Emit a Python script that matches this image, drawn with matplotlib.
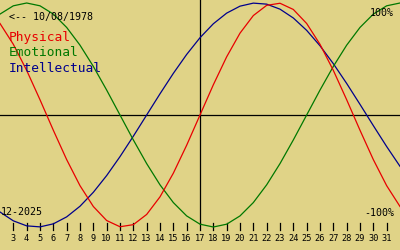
import matplotlib
matplotlib.use("Agg")
import matplotlib.pyplot as plt

# Data (December 2025, birth date 10/08/1978)
days = list(range(2, 33))
physical = [0.8170, 0.6311, 0.3984, 0.1362, -0.1362, -0.3984, -0.6311, -0.8170,
            -0.9423, -0.9977, -0.9791, -0.8879, -0.7308, -0.5196, -0.2698, 0.0,
            0.2698, 0.5196, 0.7308, 0.8879, 0.9791, 0.9977, 0.9423, 0.8170,
            0.6311, 0.3984, 0.1362, -0.1362, -0.3984, -0.6311, -0.8170]
emotional = [0.9010, 0.9749, 1.0, 0.9749, 0.9010, 0.7818, 0.6235, 0.4339,
             0.2225, 0.0, -0.2225, -0.4339, -0.6235, -0.7818, -0.9010, -0.9749,
             -1.0, -0.9749, -0.9010, -0.7818, -0.6235, -0.4339, -0.2225, 0.0,
             0.2225, 0.4339, 0.6235, 0.7818, 0.9010, 0.9749, 1.0]
intellectual = [-0.8660, -0.9450, -0.9898, -0.9989, -0.9718, -0.9096, -0.8146,
                -0.6901, -0.5407, -0.3717, -0.1893, 0.0, 0.1893, 0.3717, 0.5407,
                0.6901, 0.8146, 0.9096, 0.9718, 0.9989, 0.9898, 0.9450, 0.8660,
                0.7557, 0.6182, 0.4582, 0.2817, 0.0950, -0.0950, -0.2817, -0.4582]
tick_days = list(range(3, 32))
today = 17
series_names = ["Physical", "Emotional", "Intellectual"]
birth_label = "<-- 10/08/1978"
month_label = "12-2025"

BG = "#E0D387"
RED = "#E80000"
GREEN = "#007800"
BLUE = "#00008C"

W, H = 400, 250
fig = plt.figure(figsize=(W / 100, H / 100), dpi=100, facecolor=BG)
ax = fig.add_axes([0, 0, 1, 1])
ax.set_facecolor(BG)
ax.set_axis_off()

# pixel mapping: y_px = 115 - v*112
def v_of(ypx):
    return (115 - ypx) / 112.0

ax.set_xlim(2, 32)
ax.set_ylim(v_of(250), v_of(0))

lw = 0.9
ax.axhline(0, color="black", lw=lw, zorder=1)
ax.plot([today, today], [v_of(0), v_of(223)], color="black", lw=lw, zorder=1)

ax.plot(days, intellectual, color=BLUE, lw=lw, zorder=3)
ax.plot(days, emotional, color=GREEN, lw=lw, zorder=3)
ax.plot(days, physical, color=RED, lw=lw, zorder=3)

for d in tick_days:
    ax.plot([d, d], [v_of(223), v_of(230)], color="black", lw=lw)
    ax.text(d, v_of(238.5), str(d), ha="center", va="center",
            fontsize=6.2, family="DejaVu Sans Mono", color="black")

def ftext(x, y, s, **kw):
    fig.text(x / W, 1 - y / H, s, family="DejaVu Sans Mono", **kw)

ftext(9, 16.5, birth_label, fontsize=7.2, ha="left", va="center", color="black")
for name, col, yy in zip(series_names, [RED, GREEN, BLUE], [38, 53, 68]):
    ftext(9, yy, name, fontsize=9.3, ha="left", va="center", color=col)
ftext(394, 12.5, "100%", fontsize=7.2, ha="right", va="center", color="black")
ftext(394, 213, "-100%", fontsize=7.2, ha="right", va="center", color="black")
ftext(1, 212, month_label, fontsize=7.2, ha="left", va="center", color="black")

fig.savefig("out.png", dpi=100, facecolor=BG)
